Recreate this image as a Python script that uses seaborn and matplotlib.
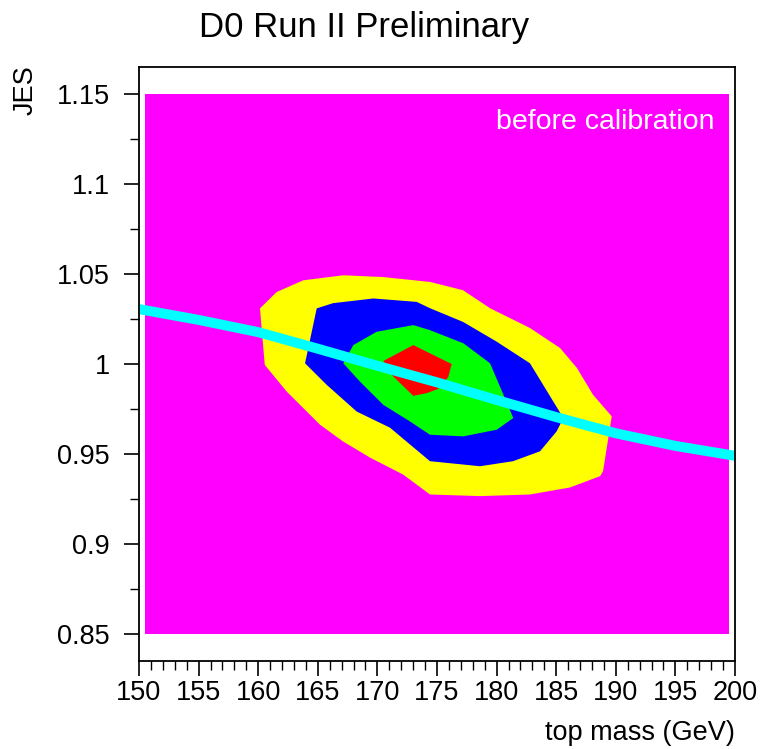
import numpy as np
import pandas as pd
import seaborn as sns
import matplotlib.pyplot as plt
from matplotlib.ticker import MultipleLocator

# histogram range of the likelihood scan
scan_mass = [150.5, 199.5]
scan_jes = [0.85, 1.15]

# contour polygons (top mass in GeV, JES), outer to inner
yellow_mass = [160.15, 161.55, 163.78, 167.14, 170.47, 174.41, 177.18, 179.45, 182.80,
               185.32, 186.74, 188.09, 189.66, 188.93, 188.68, 186.16, 182.80, 178.61,
               174.41, 172.15, 169.38, 167.11, 165.18, 162.39, 160.55]
yellow_jes = [1.0309, 1.0400, 1.0465, 1.0493, 1.0483, 1.0456, 1.0410, 1.0310, 1.0200,
              1.0089, 0.9978, 0.9829, 0.9709, 0.9404, 0.9377, 0.9314, 0.9275, 0.9266,
              0.9275, 0.9386, 0.9480, 0.9570, 0.9663, 0.9847, 0.9995]

blue_mass = [164.91, 166.28, 169.66, 173.30, 174.41, 177.18, 180.01, 182.80, 185.60,
             185.04, 183.64, 181.38, 178.61, 174.41, 171.06, 168.26, 165.75, 163.93]
blue_jes = [1.0309, 1.0338, 1.0364, 1.0345, 1.0310, 1.0234, 1.0124, 1.0004, 0.9700,
            0.9626, 0.9515, 0.9460, 0.9432, 0.9460, 0.9646, 0.9736, 0.9884, 1.0004]

green_mass = [167.14, 167.98, 169.94, 173.01, 174.41, 177.21, 179.45, 181.40, 180.01,
              177.21, 174.41, 172.73, 170.50, 168.54]
green_jes = [1.0004, 1.0105, 1.0179, 1.0216, 1.0188, 1.0115, 1.0004, 0.9700, 0.9635,
             0.9598, 0.9607, 0.9681, 0.9773, 0.9902]

red_mass = [170.50, 173.01, 176.23, 175.95, 175.11, 174.14, 173.01, 171.20]
red_jes = [1.0017, 1.0105, 1.0000, 0.9928, 0.9862, 0.9838, 0.9823, 0.9939]

# calibration curve
calib_mass = [150, 155, 160, 165, 170, 175, 180, 185, 190, 195, 200]
calib_jes = [1.0305, 1.0245, 1.0177, 1.0085, 0.9990, 0.9898, 0.9800, 0.9705, 0.9615, 0.9545, 0.9490]

sns.set_theme(style="ticks")
plt.rcParams['font.family'] = ['Liberation Sans', 'DejaVu Sans']
plt.rcParams['text.color'] = 'black'
plt.rcParams['axes.labelcolor'] = 'black'

fig = plt.figure(figsize=(7.6, 7.49), dpi=100)
ax = fig.add_axes([139/760, 88/749, 596/760, 594/749])

ax.fill_between(scan_mass, scan_jes[0], scan_jes[1], color="#ff00ff", lw=0)
ax.fill(yellow_mass, yellow_jes, color="#ffff00", lw=0)
ax.fill(blue_mass, blue_jes, color="#0000ff", lw=0)
ax.fill(green_mass, green_jes, color="#00ff00", lw=0)
ax.fill(red_mass, red_jes, color="#ff0000", lw=0)

df = pd.DataFrame({"mass": calib_mass, "jes": calib_jes})
sns.lineplot(data=df, x="mass", y="jes", color="#00ffff", lw=7.2, ax=ax)

ax.set_xlim(150, 200)
ax.set_ylim(0.835, 1.165)
ax.xaxis.set_major_locator(MultipleLocator(5))
ax.xaxis.set_minor_locator(MultipleLocator(1))
ax.yaxis.set_minor_locator(MultipleLocator(0.025))
ax.set_yticks(np.arange(0.85, 1.151, 0.05))
ax.set_yticklabels(["0.85", "0.9", "0.95", "1", "1.05", "1.1", "1.15"])
ax.tick_params(axis="both", which="major", direction="out", length=11, width=1.2,
               labelsize=19.5, color="black", labelcolor="black")
ax.tick_params(axis="both", which="minor", direction="out", length=6.5, width=1.0, color="black")
ax.tick_params(axis="y", which="major", pad=10)
ax.tick_params(axis="x", which="major", pad=3)
for s in ax.spines.values():
    s.set_linewidth(1.3)
    s.set_color("black")

ax.set_xlabel("top mass (GeV)", fontsize=19.5, ha="right", va="top")
ax.xaxis.set_label_coords(1.0, -0.1)
ax.set_ylabel("")
ax.text(-0.191, 0.92, "JES", rotation=90, ha="center", va="bottom", fontsize=19.5,
        transform=ax.transAxes)

ax.text(198.3, 1.1306, "before calibration", color="white", fontsize=20.5,
        ha="right", va="baseline")

fig.text(0.479, 1 - 37/749, "D0 Run II Preliminary", fontsize=25, ha="center", va="baseline")

fig.savefig("out.png", dpi=100)
